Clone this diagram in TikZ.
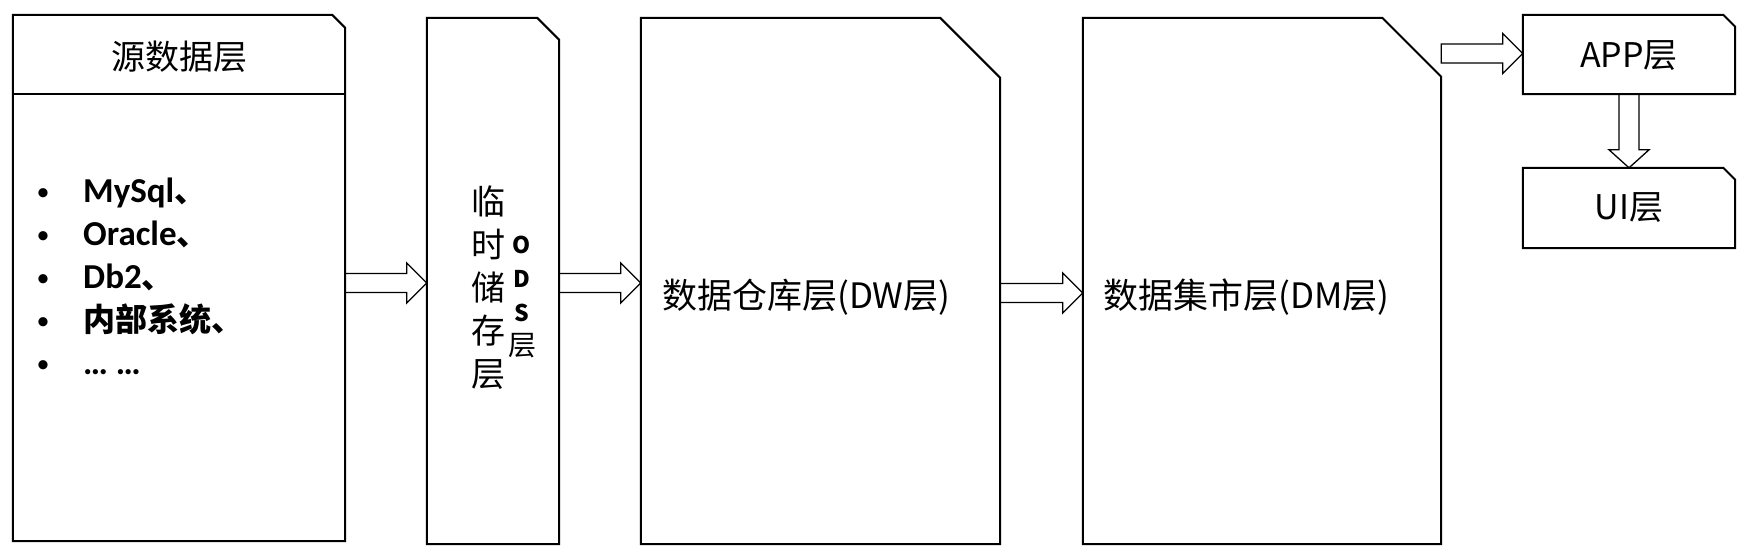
\documentclass[tikz,border=0pt]{standalone}
\usepackage{fontspec}
\setmainfont{Noto Sans CJK SC}
\newfontfamily\cjkfont{Noto Sans CJK SC}
\newfontfamily\listfont{Carlito}
\usetikzlibrary{calc}
\tikzset{
  boxline/.style={line width=2pt, line join=miter},
  blockarrow/.style={line width=1.3pt, line join=miter},
  layer/.style={inner sep=0pt, draw=none},
  item/.style={anchor=base west, inner sep=0pt, font=\listfont\bfseries\fontsize{35}{40}\selectfont},
  dot/.style={anchor=base, inner sep=0pt, font=\listfont\fontsize{26}{40}\selectfont},
  label/.style={font=\fontsize{34}{40}\selectfont}
}
\newcommand*{\CutBox}[2]{\draw[boxline] (#1.north west) -- ([xshift=-#2pt]#1.north east)
  -- ([yshift=-#2pt]#1.north east) -- (#1.south east) -- (#1.south west) -- cycle;}
\newcommand*{\HArrow}[2]{\draw[blockarrow] let \p1=(#1), \p2=(#2) in
  (\x1,\y1+9.5pt) -- (\x2-20pt,\y1+9.5pt) -- (\x2-20pt,\y1+20pt) -- (\x2,\y1)
  -- (\x2-20pt,\y1-20pt) -- (\x2-20pt,\y1-9.5pt) -- (\x1,\y1-9.5pt) -- cycle;}
\newcommand*{\VArrow}[2]{\draw[blockarrow] let \p1=(#1), \p2=(#2) in
  (\x1-10pt,\y1) -- (\x1-10pt,\y2+18pt) -- (\x1-20pt,\y2+18pt) -- (\x1,\y2)
  -- (\x1+20pt,\y2+18pt) -- (\x1+10pt,\y2+18pt) -- (\x1+10pt,\y1) -- cycle;}

\begin{document}
\begin{tikzpicture}[x=1pt,y=-1pt]
    \useasboundingbox (0,0) rectangle (1744,558);
    \node[layer, minimum width=332pt, minimum height=526pt] (src) at (179,278) {};
    \node[layer, minimum width=132pt, minimum height=526pt] (ods) at (493,281) {};
    \node[layer, minimum width=359pt, minimum height=526pt] (dw) at (820.5,281) {};
    \node[layer, minimum width=358pt, minimum height=526pt] (dm) at (1262,281) {};
    \node[layer, minimum width=212pt, minimum height=79pt] (app) at (1629,54.5) {};
    \node[layer, minimum width=212pt, minimum height=80pt] (ui) at (1629,208) {};
    \CutBox{src}{13} \CutBox{ods}{22} \CutBox{dw}{60}
    \CutBox{dm}{59} \CutBox{app}{12} \CutBox{ui}{12}
    \draw[boxline] (src.west |- 0,94) -- (src.east |- 0,94);
    \node[label] (srctitle) at (179,57) {源数据层};
    \draw (43,200) node[dot] (b1) {•};
    \draw (43,243) node[dot] (b2) {•};
    \draw (43,286) node[dot] (b3) {•};
    \draw (43,329) node[dot] (b4) {•};
    \draw (43,372) node[dot] (b5) {•};
    \draw (83,202) node[item] (i1) {MySql{\cjkfont\bfseries\fontsize{32}{40}\selectfont 、}};
    \draw (83,245) node[item] (i2) {Oracle{\cjkfont\bfseries\fontsize{32}{40}\selectfont 、}};
    \draw (83,288) node[item] (i3) {Db2{\cjkfont\bfseries\fontsize{32}{40}\selectfont 、}};
    \draw (83,331) node[item] (i4) {\cjkfont\bfseries\fontsize{32}{40}\selectfont 内部系统、};
    \draw (83,374) node[item] (i5) {… …};
    \node[align=center, font=\fontsize{34}{43}\selectfont] (odsname) at (488,288)
      {临\\时\\储\\存\\层};
    \node[align=center, font=\cjkfont\bfseries\fontsize{23}{34}\selectfont] (odstag) at (522,297)
      {O\\D\\S\\{\mdseries\fontsize{28}{34}\selectfont 层}};
    \node[label, font=\fontsize{35}{40}\selectfont, anchor=west, inner sep=0pt] (dwname) at (662,297) {数据仓库层(DW层)};
    \node[label, font=\fontsize{35}{40}\selectfont, anchor=west, inner sep=0pt] (dmname) at (1103,297) {数据集市层(DM层)};
    \node[label] (appname) at (1629,56) {APP层};
    \node[label] (uiname) at (1629,208) {UI层};
    \HArrow{src.east |- 0,283}{ods.west |- 0,283}
    \HArrow{ods.east |- 0,283}{dw.west |- 0,283}
    \HArrow{dw.east |- 0,293}{dm.west |- 0,293}
    \HArrow{dm.east |- 0,53.5}{app.west |- 0,53.5}
    \VArrow{app.south}{ui.north}
  \end{tikzpicture}
\end{document}
